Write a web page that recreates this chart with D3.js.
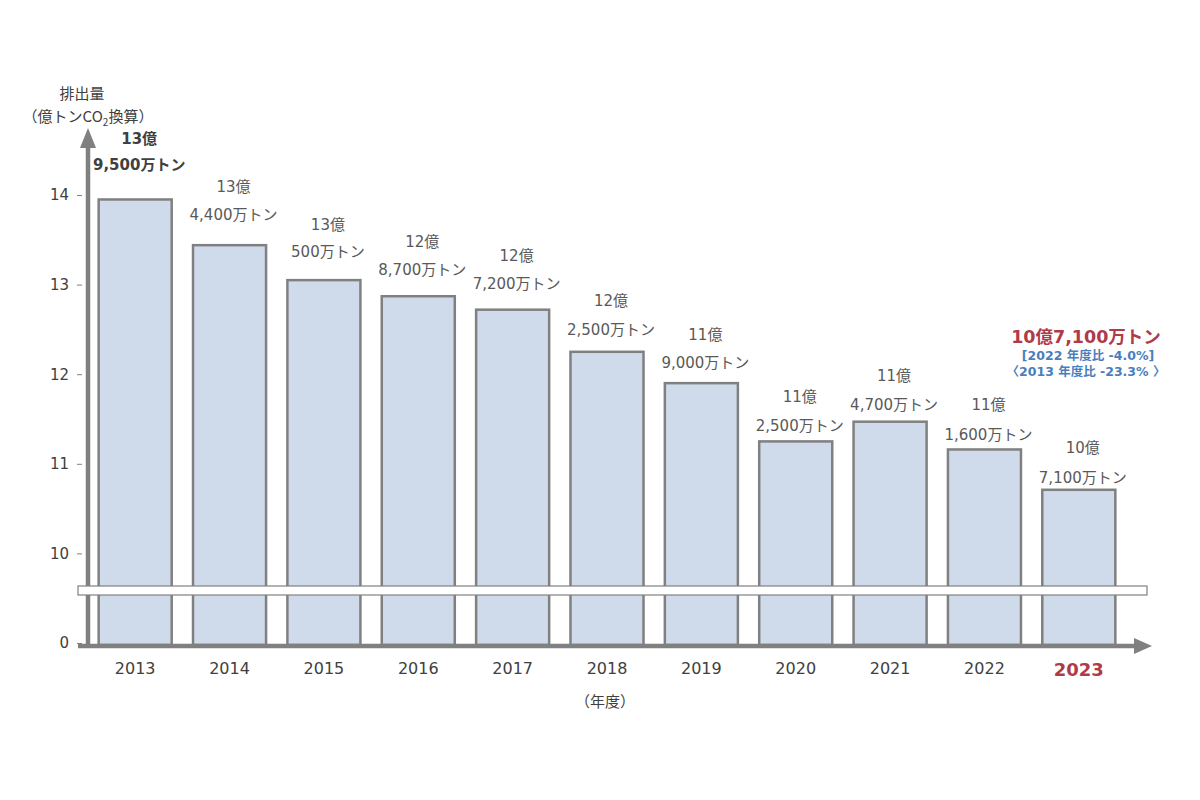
<!DOCTYPE html>
<html><head><meta charset="utf-8">
<script src="https://cdn.jsdelivr.net/npm/d3@7"></script>
<style>body{margin:0;background:#fff}svg{font-family:"DejaVu Sans","Noto Sans CJK JP",sans-serif}</style>
</head><body><svg id="c" width="1200" height="800"></svg>
<script>
const years = ["2013","2014","2015","2016","2017","2018","2019","2020","2021","2022","2023"];
const values = [13.95,13.44,13.05,12.87,12.72,12.25,11.90,11.25,11.47,11.16,10.71];
const labelTop = ["13億","13億","13億","12億","12億","12億","11億","11億","11億","11億","10億"];
const labelBottom = ["9,500万トン","4,400万トン","500万トン","8,700万トン","7,200万トン","2,500万トン","9,000万トン","2,500万トン","4,700万トン","1,600万トン","7,100万トン"];
const yTicks = [10,11,12,13,14];
const yTickZero = "0";
const axisBase = 9.0; // broken axis: 0 drawn at this value

const svg = d3.select("#c");
const gray = "#808080";
const fam = '"DejaVu Sans","Noto Sans CJK JP",sans-serif';
const x = d3.scaleBand().domain(years).range([88,1126]).paddingInner(0.226).paddingOuter(0.113);
const y = d3.scaleLinear().domain([axisBase,14]).range([643,195]);
const yBase = 645;

// bars
svg.append("g").selectAll("rect").data(years).join("rect")
  .attr("x", d=>x(d)).attr("width", x.bandwidth())
  .attr("y", (d,i)=>y(values[i])).attr("height",(d,i)=>yBase-y(values[i]))
  .attr("fill","#cfdbeb").attr("stroke",gray).attr("stroke-width",2.5);

// labels
const lg = svg.append("g").attr("text-anchor","middle").attr("fill","#595959").attr("font-size",15);
years.forEach((d,i)=>{
  const cx = x(d)+x.bandwidth()/2+4, top=y(values[i]);
  const dv = values[i]-10.71;
  const bold = i===0;
  lg.append("text").attr("x",cx).attr("y",top-(42+6*dv)+5.5).text(labelTop[i]).attr("font-weight",bold?"bold":null).attr("fill",bold?"#404040":null);
  lg.append("text").attr("x",cx).attr("y",top-(12+7*dv)+5.5).text(labelBottom[i]).attr("font-weight",bold?"bold":null).attr("fill",bold?"#404040":null);
});

// y axis
const yAxis = d3.axisLeft(y).tickValues([axisBase].concat(yTicks)).tickSize(5).tickPadding(8)
  .tickFormat(v=> v===axisBase? yTickZero : d3.format("d")(v));
const ya = svg.append("g").attr("transform","translate(82,0)").call(yAxis).attr("font-family",fam);
ya.select(".domain").remove();
ya.selectAll("line").attr("stroke",gray);
ya.selectAll("text").attr("font-size",15).attr("fill","#404040");
svg.append("line").attr("x1",88).attr("x2",88).attr("y1",648).attr("y2",146).attr("stroke",gray).attr("stroke-width",4.5);
svg.append("path").attr("d","M80,148 L88,128 L96,148 Z").attr("fill",gray);

// x axis
svg.append("line").attr("x1",78).attr("x2",1136).attr("y1",yBase+1).attr("y2",yBase+1).attr("stroke",gray).attr("stroke-width",4.5);
svg.append("path").attr("d","M1134,638 L1152,646 L1134,654 Z").attr("fill",gray);
const xAxis = d3.axisBottom(x).tickSize(0).tickPadding(18);
const xa = svg.append("g").attr("transform",`translate(0,${yBase})`).call(xAxis).attr("font-family",fam);
xa.select(".domain").remove();
xa.selectAll("text").attr("font-size",16).attr("fill","#404040")
  .filter(d=>d==="2023").attr("font-size",18).attr("font-weight","bold").attr("fill","#b03a48");

// break band
svg.append("rect").attr("x",78).attr("y",586).attr("width",1069).attr("height",9).attr("fill","#fff").attr("stroke",gray).attr("stroke-width",1.2);

// titles
svg.append("text").attr("x",82).attr("y",99).attr("text-anchor","middle").attr("font-size",15).attr("fill","#404040").text("排出量");
const t2 = svg.append("text").attr("x",88).attr("y",122).attr("text-anchor","middle").attr("font-size",15).attr("fill","#404040").attr("font-family","Noto Sans CJK JP");
t2.append("tspan").text("（億トンCO");
t2.append("tspan").attr("font-size",10).attr("dy",4).text("2");
t2.append("tspan").attr("dy",-4).text("換算）");
svg.append("text").attr("x",605).attr("y",707).attr("text-anchor","middle").attr("font-size",15).attr("fill","#404040").text("（年度）");

// annotation
const ag = svg.append("g").attr("text-anchor","middle").attr("font-weight","bold");
ag.append("text").attr("x",1086).attr("y",343).attr("font-size",17.5).attr("fill","#b03a48").text("10億7,100万トン");
ag.append("text").attr("x",1088).attr("y",360).attr("font-size",12.5).attr("fill","#4a7ebb").text("[2022 年度比  -4.0%]");
ag.append("text").attr("x",1086).attr("y",376).attr("font-size",12.5).attr("fill","#4a7ebb").text("〈2013 年度比  -23.3% 〉");
</script></body></html>
